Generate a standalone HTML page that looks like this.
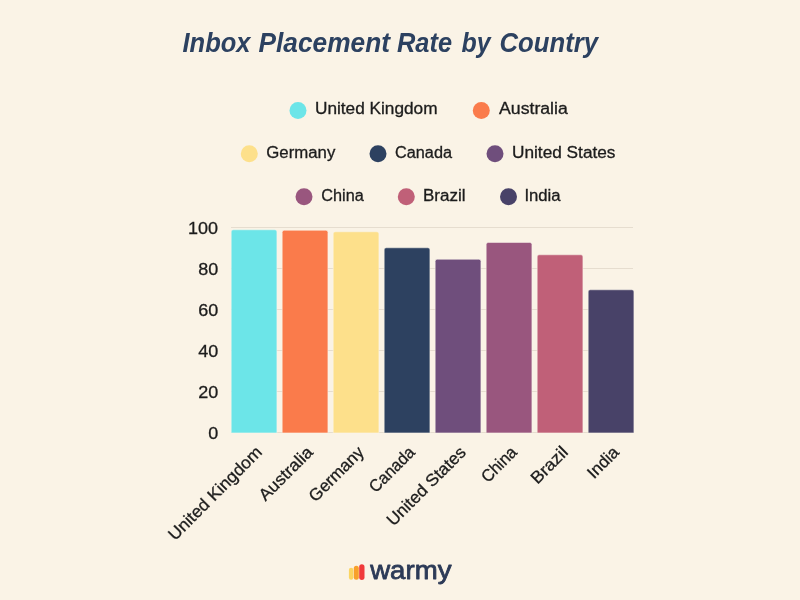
<!DOCTYPE html>
<html lang="en">
<head>
<meta charset="utf-8">
<title>Inbox Placement Rate by Country</title>
<style>
  html, body { margin: 0; padding: 0; background: #faf3e6; }
  body { width: 800px; height: 600px; overflow: hidden; font-family: "Liberation Sans", sans-serif; }
  svg { display: block; }
  .title { font-family: "Liberation Sans", sans-serif; font-weight: bold; font-style: italic; font-size: 27.2px; fill: #2c4160; }
  .leg { font-family: "Liberation Sans", sans-serif; font-size: 16px; fill: #1c1c1c; stroke: #1c1c1c; stroke-width: 0.3; }
  .tick { font-family: "Liberation Sans", sans-serif; font-size: 17px; fill: #1c1c1c; stroke: #1c1c1c; stroke-width: 0.3; }
  .leg circle { stroke: none; }
  .grid { stroke: #e6ddcf; stroke-width: 1; }
  .bar { stroke: #fbf6ec; stroke-width: 0.5; }
  .logo { font-family: "Liberation Sans", sans-serif; font-size: 26px; fill: #2c3a57; stroke: #2c3a57; stroke-width: 0.8; stroke-linejoin: round; }
</style>
</head>
<body>
<svg width="800" height="600" viewBox="0 0 800 600">
  <rect x="0" y="0" width="800" height="600" fill="#faf3e6"/>

  <!-- Title -->
  <g class="title">
    <text x="182.5" y="51.6" textLength="68" lengthAdjust="spacingAndGlyphs">Inbox</text>
    <text x="258.5" y="51.6" textLength="131.5" lengthAdjust="spacingAndGlyphs">Placement</text>
    <text x="397" y="51.6" textLength="55" lengthAdjust="spacingAndGlyphs">Rate</text>
    <text x="461.5" y="51.6" textLength="29" lengthAdjust="spacingAndGlyphs">by</text>
    <text x="499.5" y="51.6" textLength="98.5" lengthAdjust="spacingAndGlyphs">Country</text>
  </g>

  <!-- Legend -->
  <g class="leg">
    <circle cx="298" cy="110.4" r="8.5" fill="#6ce5e8"/>
    <text x="315" y="114.3" textLength="122.5" lengthAdjust="spacingAndGlyphs">United Kingdom</text>
    <circle cx="481.3" cy="110.4" r="8.5" fill="#fa7b4b"/>
    <text x="499" y="114.3" textLength="68.8" lengthAdjust="spacingAndGlyphs">Australia</text>

    <circle cx="249.3" cy="153.7" r="8.5" fill="#fde08b"/>
    <text x="266.3" y="157.6" textLength="69" lengthAdjust="spacingAndGlyphs">Germany</text>
    <circle cx="378" cy="153.7" r="8.5" fill="#2d4160"/>
    <text x="395" y="157.6" textLength="57" lengthAdjust="spacingAndGlyphs">Canada</text>
    <circle cx="495" cy="153.7" r="8.5" fill="#6f4e7c"/>
    <text x="512" y="157.6" textLength="103.5" lengthAdjust="spacingAndGlyphs">United States</text>

    <circle cx="304" cy="196.7" r="8.5" fill="#99567e"/>
    <text x="321.3" y="200.6" textLength="42.5" lengthAdjust="spacingAndGlyphs">China</text>
    <circle cx="406.3" cy="196.7" r="8.5" fill="#c06078"/>
    <text x="423" y="200.6" textLength="42.5" lengthAdjust="spacingAndGlyphs">Brazil</text>
    <circle cx="508.5" cy="196.7" r="8.5" fill="#484268"/>
    <text x="524.4" y="200.6" textLength="36.2" lengthAdjust="spacingAndGlyphs">India</text>
  </g>

  <!-- Grid lines -->
  <g class="grid">
    <line x1="231" x2="633" y1="227.5" y2="227.5"/>
    <line x1="231" x2="633" y1="268.5" y2="268.5"/>
    <line x1="231" x2="633" y1="309.5" y2="309.5"/>
    <line x1="231" x2="633" y1="350.5" y2="350.5"/>
    <line x1="231" x2="633" y1="391.5" y2="391.5"/>
    <line x1="231" x2="633" y1="432.5" y2="432.5"/>
  </g>

  <!-- Y axis labels -->
  <g class="tick">
    <text x="187.9" y="234" textLength="30" lengthAdjust="spacingAndGlyphs">100</text>
    <text x="198.3" y="275" textLength="20" lengthAdjust="spacingAndGlyphs">80</text>
    <text x="198.3" y="316" textLength="20" lengthAdjust="spacingAndGlyphs">60</text>
    <text x="198.3" y="357" textLength="20" lengthAdjust="spacingAndGlyphs">40</text>
    <text x="198.3" y="398" textLength="20" lengthAdjust="spacingAndGlyphs">20</text>
    <text x="208.3" y="439" textLength="10" lengthAdjust="spacingAndGlyphs">0</text>
  </g>

  <!-- Bars -->
  <g class="bar">
    <path fill="#6ce5e8" d="M231.2 432.9V231.8a2 2 0 0 1 2-2h41.7a2 2 0 0 1 2 2V432.9Z"/>
    <path fill="#fa7b4b" d="M282.2 432.9V232.3a2 2 0 0 1 2-2h41.7a2 2 0 0 1 2 2V432.9Z"/>
    <path fill="#fde08b" d="M333.2 432.9V233.8a2 2 0 0 1 2-2h41.7a2 2 0 0 1 2 2V432.9Z"/>
    <path fill="#2d4160" d="M384.2 432.9V249.8a2 2 0 0 1 2-2h41.7a2 2 0 0 1 2 2V432.9Z"/>
    <path fill="#6f4e7c" d="M435.2 432.9V261.3a2 2 0 0 1 2-2h41.7a2 2 0 0 1 2 2V432.9Z"/>
    <path fill="#99567e" d="M486.2 432.9V244.5a2 2 0 0 1 2-2h41.7a2 2 0 0 1 2 2V432.9Z"/>
    <path fill="#c06078" d="M537.2 432.9V256.8a2 2 0 0 1 2-2h41.7a2 2 0 0 1 2 2V432.9Z"/>
    <path fill="#484268" d="M588.2 432.9V291.8a2 2 0 0 1 2-2h41.7a2 2 0 0 1 2 2V432.9Z"/>
  </g>

  <!-- X axis labels -->
  <g class="tick" text-anchor="end">
    <text transform="translate(263 453.3) rotate(-45)" textLength="124.5" lengthAdjust="spacingAndGlyphs">United Kingdom</text>
    <text transform="translate(314 453.3) rotate(-45)" textLength="68.6" lengthAdjust="spacingAndGlyphs">Australia</text>
    <text transform="translate(365 453.3) rotate(-45)" textLength="69.9" lengthAdjust="spacingAndGlyphs">Germany</text>
    <text transform="translate(416 453.3) rotate(-45)" textLength="56.8" lengthAdjust="spacingAndGlyphs">Canada</text>
    <text transform="translate(467 453.3) rotate(-45)" textLength="104" lengthAdjust="spacingAndGlyphs">United States</text>
    <text transform="translate(518 453.3) rotate(-45)" textLength="42.6" lengthAdjust="spacingAndGlyphs">China</text>
    <text transform="translate(569 453.3) rotate(-45)" textLength="44.6" lengthAdjust="spacingAndGlyphs">Brazil</text>
    <text transform="translate(620 453.3) rotate(-45)" textLength="36.9" lengthAdjust="spacingAndGlyphs">India</text>
  </g>

  <!-- Logo -->
  <g>
    <rect x="348.9" y="567.8" width="4.4" height="12" rx="2.2" fill="#fbd562"/>
    <rect x="353.8" y="565.8" width="5" height="14" rx="2.5" fill="#f8a02b"/>
    <rect x="359.2" y="564.3" width="5.3" height="15.7" rx="2.65" fill="#f0393a"/>
    <text class="logo" x="370.2" y="579.2" textLength="81.3" lengthAdjust="spacingAndGlyphs">warmy</text>
  </g>
</svg>
</body>
</html>
